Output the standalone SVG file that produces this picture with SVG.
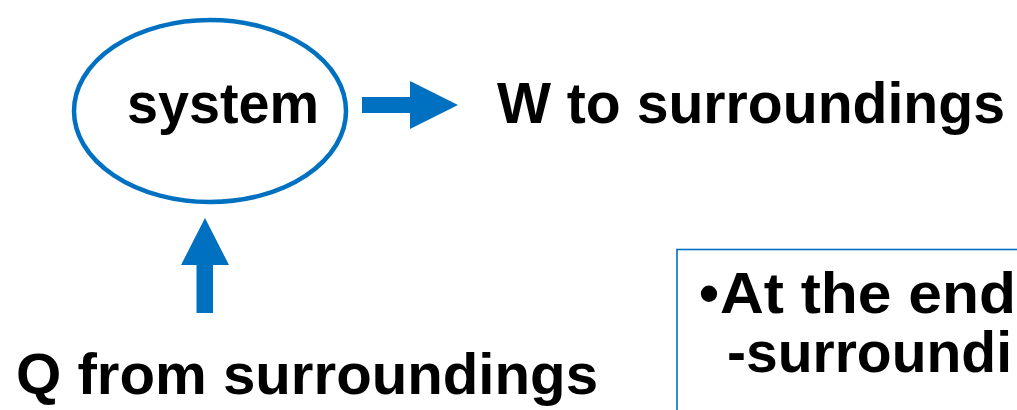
<svg xmlns="http://www.w3.org/2000/svg" width="1017" height="410" viewBox="0 0 1017 410">
<style>
.t{font-family:"Liberation Sans",Arial,sans-serif;font-weight:bold;font-size:57px;fill:#000}
.arr{fill:#0070C0}
</style>
<rect width="1017" height="410" fill="#fff"/>
<g id="system">
<ellipse cx="210" cy="111" rx="136" ry="91" fill="none" stroke="#0070C0" stroke-width="4.5"/>
<text class="t" x="127" y="123" textLength="192" lengthAdjust="spacingAndGlyphs">system</text>
</g>
<g id="work">
<text class="t" x="497" y="123" textLength="508" lengthAdjust="spacingAndGlyphs">W to surroundings</text>
</g>
<g id="heat">
<text class="t" x="16" y="394" textLength="582" lengthAdjust="spacingAndGlyphs">Q from surroundings</text>
</g>
<g id="note">
<rect x="677" y="249.5" width="360" height="200" fill="none" stroke="#0070C0" stroke-width="1.6"/>
<text class="t" x="699" y="313">•</text>
<text class="t" x="720" y="313" textLength="296" lengthAdjust="spacingAndGlyphs">At the end</text>
<text class="t" x="727" y="372" textLength="285" lengthAdjust="spacingAndGlyphs">-surroundi</text>
</g>
<g id="connectors">
<polygon class="arr" points="362,97 410,97 410,81 458,105 410,129 410,113 362,113"/>
<polygon class="arr" points="196.5,313 196.5,265 181,265 205,218 229,265 213,265 213,313"/>
</g>
</svg>
